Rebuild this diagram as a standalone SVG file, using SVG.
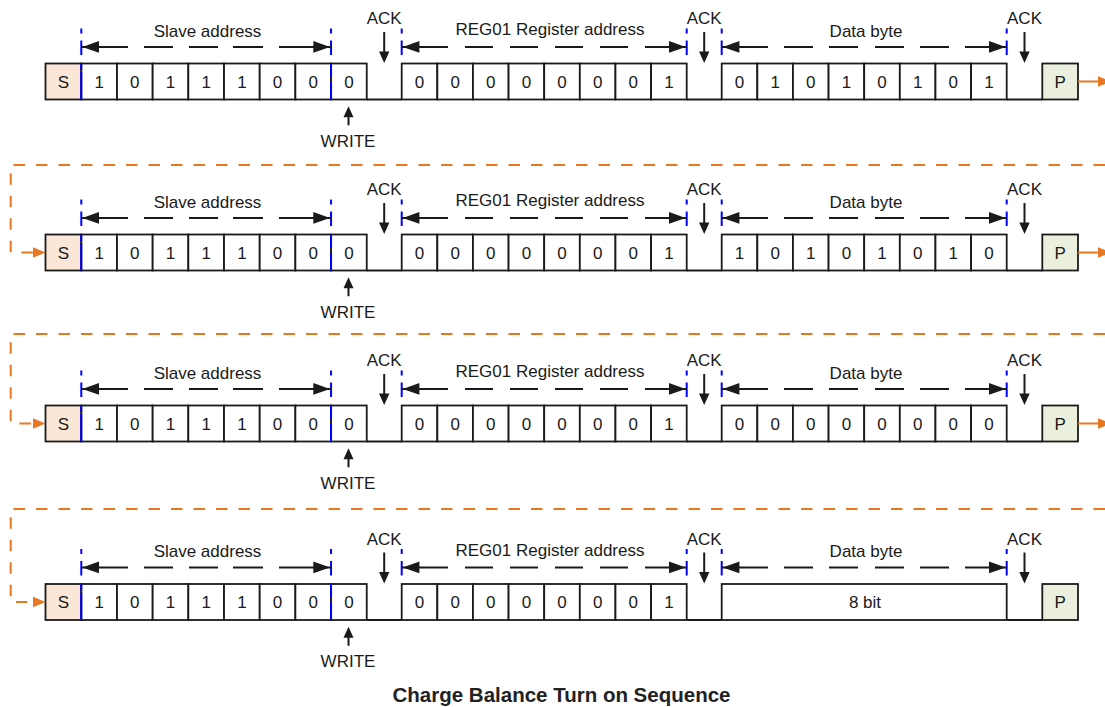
<svg xmlns="http://www.w3.org/2000/svg" width="1105" height="707" viewBox="0 0 1105 707">
<style>
.c{fill:#fff;stroke:#1a1a1a;stroke-width:1.8}
.s{fill:#fbe6d8}
.p{fill:#eaf0dd}
.ln{fill:none;stroke:#1a1a1a;stroke-width:1.8}
.t{font-family:"Liberation Sans",Arial,sans-serif;font-size:17px;fill:#1a1a1a;text-anchor:middle}
.ttl{font-family:"Liberation Sans",Arial,sans-serif;font-size:20.5px;font-weight:bold;fill:#222;text-anchor:middle}
.bl{fill:none;stroke:#0000ff;stroke-width:2}
.dim{fill:none;stroke:#1a1a1a;stroke-width:2}
.ah{fill:#1a1a1a}
.or{fill:none;stroke:#e87722;stroke-width:2;stroke-dasharray:11.5 11}
.os{fill:none;stroke:#e87722;stroke-width:2}
.oa{fill:#e87722}
</style>
<defs>
<g id="frame">
<path class="ln" d="M366.74 36H401.7M686.7 36H721.7M1006.7 36H1042.3"/>
<rect class="c s" x="45.5" y="0" width="35.8" height="36"/>
<rect class="c" x="81.3" y="0" width="35.68" height="36"/>
<rect class="c" x="116.98" y="0" width="35.68" height="36"/>
<rect class="c" x="152.66" y="0" width="35.68" height="36"/>
<rect class="c" x="188.34" y="0" width="35.68" height="36"/>
<rect class="c" x="224.02" y="0" width="35.68" height="36"/>
<rect class="c" x="259.7" y="0" width="35.68" height="36"/>
<rect class="c" x="295.38" y="0" width="35.68" height="36"/>
<rect class="c" x="331.06" y="0" width="35.68" height="36"/>
<rect class="c" x="401.7" y="0" width="35.625" height="36"/>
<rect class="c" x="437.33" y="0" width="35.625" height="36"/>
<rect class="c" x="472.95" y="0" width="35.625" height="36"/>
<rect class="c" x="508.58" y="0" width="35.625" height="36"/>
<rect class="c" x="544.2" y="0" width="35.625" height="36"/>
<rect class="c" x="579.83" y="0" width="35.625" height="36"/>
<rect class="c" x="615.45" y="0" width="35.625" height="36"/>
<rect class="c" x="651.08" y="0" width="35.625" height="36"/>
<rect class="c p" x="1042.3" y="0" width="35.7" height="36"/>
</g>
</defs>

<!-- Row 1 -->
<g id="row1" transform="translate(0,63.5)">
<use href="#frame"/>
<g id="r1-data">
<rect class="c" x="721.7" y="0" width="35.625" height="36"/>
<rect class="c" x="757.33" y="0" width="35.625" height="36"/>
<rect class="c" x="792.95" y="0" width="35.625" height="36"/>
<rect class="c" x="828.58" y="0" width="35.625" height="36"/>
<rect class="c" x="864.2" y="0" width="35.625" height="36"/>
<rect class="c" x="899.83" y="0" width="35.625" height="36"/>
<rect class="c" x="935.45" y="0" width="35.625" height="36"/>
<rect class="c" x="971.08" y="0" width="35.625" height="36"/>
</g>
<g id="r1-text">
<text class="t" x="63.4" y="24.1">S</text>
<text class="t" x="99.14" y="24.1">1</text><text class="t" x="134.82" y="24.1">0</text><text class="t" x="170.5" y="24.1">1</text><text class="t" x="206.18" y="24.1">1</text><text class="t" x="241.86" y="24.1">1</text><text class="t" x="277.54" y="24.1">0</text><text class="t" x="313.22" y="24.1">0</text><text class="t" x="348.9" y="24.1">0</text>
<text class="t" x="419.51" y="24.1">0</text><text class="t" x="455.14" y="24.1">0</text><text class="t" x="490.76" y="24.1">0</text><text class="t" x="526.39" y="24.1">0</text><text class="t" x="562.01" y="24.1">0</text><text class="t" x="597.64" y="24.1">0</text><text class="t" x="633.26" y="24.1">0</text><text class="t" x="668.89" y="24.1">1</text>
<text class="t" x="739.51" y="24.1">0</text><text class="t" x="775.14" y="24.1">1</text><text class="t" x="810.76" y="24.1">0</text><text class="t" x="846.39" y="24.1">1</text><text class="t" x="882.01" y="24.1">0</text><text class="t" x="917.64" y="24.1">1</text><text class="t" x="953.26" y="24.1">0</text><text class="t" x="988.89" y="24.1">1</text>
<text class="t" x="1060.15" y="24.1">P</text>
<text class="t" x="207.5" y="-26.6">Slave address</text>
<text class="t" x="550" y="-28.3">REG01 Register address</text>
<text class="t" x="866" y="-26.6">Data byte</text>
<text class="t" x="384.2" y="-39.3">ACK</text>
<text class="t" x="704.2" y="-39.3">ACK</text>
<text class="t" x="1024.5" y="-39.3">ACK</text>
<text class="t" x="348" y="83">WRITE</text>
</g>
<g id="r1-marks">
<path class="bl" d="M81.3 -35V-30M81.3 -23V-8.5M331.06 -35V-30M331.06 -23V-8.5M401.7 -35V-30M401.7 -23V-8.5M686.7 -35V-30M686.7 -23V-8.5M721.7 -35V-30M721.7 -23V-8.5M1006.7 -35V-30M1006.7 -23V-8.5M81.3 0V6.5M81.3 8.5V36M331.06 0V13.3M331.06 18.3V36"/>
<path class="dim" d="M81.3 -16.6H128M144 -16.6H173M189 -16.6H218M233 -16.6H263M279 -16.6H331M401.7 -16.6H448M465 -16.6H493M510 -16.6H538M555 -16.6H583M600 -16.6H628M645 -16.6H686.7M721.7 -16.6H768M784 -16.6H813M829 -16.6H858M875 -16.6H904M920 -16.6H949M965 -16.6H1006.7M384.2 -31.6V-11M704.2 -31.6V-11M1024.5 -31.6V-11M348.5 61.7V53"/>
<path class="ah" d="M82.3 -16.6L99 -22.5V-10.7ZM330 -16.6L313.3 -22.5V-10.7ZM402.7 -16.6L419.4 -22.5V-10.7ZM685.7 -16.6L669 -22.5V-10.7ZM722.7 -16.6L739.4 -22.5V-10.7ZM1005.7 -16.6L989 -22.5V-10.7ZM379 -12H389.4L384.2 -0.5ZM699 -12H709.4L704.2 -0.5ZM1019.3 -12H1029.7L1024.5 -0.5ZM343.5 53.7H353.5L348.5 42.7Z"/>
</g>
</g>

<!-- Row 2 -->
<g id="row2" transform="translate(0,234.5)">
<use href="#frame"/>
<g id="r2-data">
<rect class="c" x="721.7" y="0" width="35.625" height="36"/>
<rect class="c" x="757.33" y="0" width="35.625" height="36"/>
<rect class="c" x="792.95" y="0" width="35.625" height="36"/>
<rect class="c" x="828.58" y="0" width="35.625" height="36"/>
<rect class="c" x="864.2" y="0" width="35.625" height="36"/>
<rect class="c" x="899.83" y="0" width="35.625" height="36"/>
<rect class="c" x="935.45" y="0" width="35.625" height="36"/>
<rect class="c" x="971.08" y="0" width="35.625" height="36"/>
</g>
<g id="r2-text">
<text class="t" x="63.4" y="24.1">S</text>
<text class="t" x="99.14" y="24.1">1</text><text class="t" x="134.82" y="24.1">0</text><text class="t" x="170.5" y="24.1">1</text><text class="t" x="206.18" y="24.1">1</text><text class="t" x="241.86" y="24.1">1</text><text class="t" x="277.54" y="24.1">0</text><text class="t" x="313.22" y="24.1">0</text><text class="t" x="348.9" y="24.1">0</text>
<text class="t" x="419.51" y="24.1">0</text><text class="t" x="455.14" y="24.1">0</text><text class="t" x="490.76" y="24.1">0</text><text class="t" x="526.39" y="24.1">0</text><text class="t" x="562.01" y="24.1">0</text><text class="t" x="597.64" y="24.1">0</text><text class="t" x="633.26" y="24.1">0</text><text class="t" x="668.89" y="24.1">1</text>
<text class="t" x="739.51" y="24.1">1</text><text class="t" x="775.14" y="24.1">0</text><text class="t" x="810.76" y="24.1">1</text><text class="t" x="846.39" y="24.1">0</text><text class="t" x="882.01" y="24.1">1</text><text class="t" x="917.64" y="24.1">0</text><text class="t" x="953.26" y="24.1">1</text><text class="t" x="988.89" y="24.1">0</text>
<text class="t" x="1060.15" y="24.1">P</text>
<text class="t" x="207.5" y="-26.6">Slave address</text>
<text class="t" x="550" y="-28.3">REG01 Register address</text>
<text class="t" x="866" y="-26.6">Data byte</text>
<text class="t" x="384.2" y="-39.3">ACK</text>
<text class="t" x="704.2" y="-39.3">ACK</text>
<text class="t" x="1024.5" y="-39.3">ACK</text>
<text class="t" x="348" y="83">WRITE</text>
</g>
<g id="r2-marks">
<path class="bl" d="M81.3 -35V-30M81.3 -23V-8.5M331.06 -35V-30M331.06 -23V-8.5M401.7 -35V-30M401.7 -23V-8.5M686.7 -35V-30M686.7 -23V-8.5M721.7 -35V-30M721.7 -23V-8.5M1006.7 -35V-30M1006.7 -23V-8.5M81.3 0V6.5M81.3 8.5V36M331.06 0V13.3M331.06 18.3V36"/>
<path class="dim" d="M81.3 -16.6H128M144 -16.6H173M189 -16.6H218M233 -16.6H263M279 -16.6H331M401.7 -16.6H448M465 -16.6H493M510 -16.6H538M555 -16.6H583M600 -16.6H628M645 -16.6H686.7M721.7 -16.6H768M784 -16.6H813M829 -16.6H858M875 -16.6H904M920 -16.6H949M965 -16.6H1006.7M384.2 -31.6V-11M704.2 -31.6V-11M1024.5 -31.6V-11M348.5 61.7V53"/>
<path class="ah" d="M82.3 -16.6L99 -22.5V-10.7ZM330 -16.6L313.3 -22.5V-10.7ZM402.7 -16.6L419.4 -22.5V-10.7ZM685.7 -16.6L669 -22.5V-10.7ZM722.7 -16.6L739.4 -22.5V-10.7ZM1005.7 -16.6L989 -22.5V-10.7ZM379 -12H389.4L384.2 -0.5ZM699 -12H709.4L704.2 -0.5ZM1019.3 -12H1029.7L1024.5 -0.5ZM343.5 53.7H353.5L348.5 42.7Z"/>
</g>
</g>

<!-- Row 3 -->
<g id="row3" transform="translate(0,405.5)">
<use href="#frame"/>
<g id="r3-data">
<rect class="c" x="721.7" y="0" width="35.625" height="36"/>
<rect class="c" x="757.33" y="0" width="35.625" height="36"/>
<rect class="c" x="792.95" y="0" width="35.625" height="36"/>
<rect class="c" x="828.58" y="0" width="35.625" height="36"/>
<rect class="c" x="864.2" y="0" width="35.625" height="36"/>
<rect class="c" x="899.83" y="0" width="35.625" height="36"/>
<rect class="c" x="935.45" y="0" width="35.625" height="36"/>
<rect class="c" x="971.08" y="0" width="35.625" height="36"/>
</g>
<g id="r3-text">
<text class="t" x="63.4" y="24.1">S</text>
<text class="t" x="99.14" y="24.1">1</text><text class="t" x="134.82" y="24.1">0</text><text class="t" x="170.5" y="24.1">1</text><text class="t" x="206.18" y="24.1">1</text><text class="t" x="241.86" y="24.1">1</text><text class="t" x="277.54" y="24.1">0</text><text class="t" x="313.22" y="24.1">0</text><text class="t" x="348.9" y="24.1">0</text>
<text class="t" x="419.51" y="24.1">0</text><text class="t" x="455.14" y="24.1">0</text><text class="t" x="490.76" y="24.1">0</text><text class="t" x="526.39" y="24.1">0</text><text class="t" x="562.01" y="24.1">0</text><text class="t" x="597.64" y="24.1">0</text><text class="t" x="633.26" y="24.1">0</text><text class="t" x="668.89" y="24.1">1</text>
<text class="t" x="739.51" y="24.1">0</text><text class="t" x="775.14" y="24.1">0</text><text class="t" x="810.76" y="24.1">0</text><text class="t" x="846.39" y="24.1">0</text><text class="t" x="882.01" y="24.1">0</text><text class="t" x="917.64" y="24.1">0</text><text class="t" x="953.26" y="24.1">0</text><text class="t" x="988.89" y="24.1">0</text>
<text class="t" x="1060.15" y="24.1">P</text>
<text class="t" x="207.5" y="-26.6">Slave address</text>
<text class="t" x="550" y="-28.3">REG01 Register address</text>
<text class="t" x="866" y="-26.6">Data byte</text>
<text class="t" x="384.2" y="-39.3">ACK</text>
<text class="t" x="704.2" y="-39.3">ACK</text>
<text class="t" x="1024.5" y="-39.3">ACK</text>
<text class="t" x="348" y="83">WRITE</text>
</g>
<g id="r3-marks">
<path class="bl" d="M81.3 -35V-30M81.3 -23V-8.5M331.06 -35V-30M331.06 -23V-8.5M401.7 -35V-30M401.7 -23V-8.5M686.7 -35V-30M686.7 -23V-8.5M721.7 -35V-30M721.7 -23V-8.5M1006.7 -35V-30M1006.7 -23V-8.5M81.3 0V6.5M81.3 8.5V36M331.06 0V13.3M331.06 18.3V36"/>
<path class="dim" d="M81.3 -16.6H128M144 -16.6H173M189 -16.6H218M233 -16.6H263M279 -16.6H331M401.7 -16.6H448M465 -16.6H493M510 -16.6H538M555 -16.6H583M600 -16.6H628M645 -16.6H686.7M721.7 -16.6H768M784 -16.6H813M829 -16.6H858M875 -16.6H904M920 -16.6H949M965 -16.6H1006.7M384.2 -31.6V-11M704.2 -31.6V-11M1024.5 -31.6V-11M348.5 61.7V53"/>
<path class="ah" d="M82.3 -16.6L99 -22.5V-10.7ZM330 -16.6L313.3 -22.5V-10.7ZM402.7 -16.6L419.4 -22.5V-10.7ZM685.7 -16.6L669 -22.5V-10.7ZM722.7 -16.6L739.4 -22.5V-10.7ZM1005.7 -16.6L989 -22.5V-10.7ZM379 -12H389.4L384.2 -0.5ZM699 -12H709.4L704.2 -0.5ZM1019.3 -12H1029.7L1024.5 -0.5ZM343.5 53.7H353.5L348.5 42.7Z"/>
</g>
</g>

<!-- Row 4 -->
<g id="row4" transform="translate(0,584)">
<use href="#frame"/>
<g id="r4-data">
<rect class="c" x="721.7" y="0" width="285" height="36"/>
</g>
<g id="r4-text">
<text class="t" x="63.4" y="24.1">S</text>
<text class="t" x="99.14" y="24.1">1</text><text class="t" x="134.82" y="24.1">0</text><text class="t" x="170.5" y="24.1">1</text><text class="t" x="206.18" y="24.1">1</text><text class="t" x="241.86" y="24.1">1</text><text class="t" x="277.54" y="24.1">0</text><text class="t" x="313.22" y="24.1">0</text><text class="t" x="348.9" y="24.1">0</text>
<text class="t" x="419.51" y="24.1">0</text><text class="t" x="455.14" y="24.1">0</text><text class="t" x="490.76" y="24.1">0</text><text class="t" x="526.39" y="24.1">0</text><text class="t" x="562.01" y="24.1">0</text><text class="t" x="597.64" y="24.1">0</text><text class="t" x="633.26" y="24.1">0</text><text class="t" x="668.89" y="24.1">1</text>
<text class="t" x="865" y="24.1">8 bit</text>
<text class="t" x="1060.15" y="24.1">P</text>
<text class="t" x="207.5" y="-26.6">Slave address</text>
<text class="t" x="550" y="-28.3">REG01 Register address</text>
<text class="t" x="866" y="-26.6">Data byte</text>
<text class="t" x="384.2" y="-39.3">ACK</text>
<text class="t" x="704.2" y="-39.3">ACK</text>
<text class="t" x="1024.5" y="-39.3">ACK</text>
<text class="t" x="348" y="83">WRITE</text>
</g>
<g id="r4-marks">
<path class="bl" d="M81.3 -35V-30M81.3 -23V-8.5M331.06 -35V-30M331.06 -23V-8.5M401.7 -35V-30M401.7 -23V-8.5M686.7 -35V-30M686.7 -23V-8.5M721.7 -35V-30M721.7 -23V-8.5M1006.7 -35V-30M1006.7 -23V-8.5M81.3 0V6.5M81.3 8.5V36M331.06 0V13.3M331.06 18.3V36"/>
<path class="dim" d="M81.3 -16.6H128M144 -16.6H173M189 -16.6H218M233 -16.6H263M279 -16.6H331M401.7 -16.6H448M465 -16.6H493M510 -16.6H538M555 -16.6H583M600 -16.6H628M645 -16.6H686.7M721.7 -16.6H768M784 -16.6H813M829 -16.6H858M875 -16.6H904M920 -16.6H949M965 -16.6H1006.7M384.2 -31.6V-11M704.2 -31.6V-11M1024.5 -31.6V-11M348.5 61.7V53"/>
<path class="ah" d="M82.3 -16.6L99 -22.5V-10.7ZM330 -16.6L313.3 -22.5V-10.7ZM402.7 -16.6L419.4 -22.5V-10.7ZM685.7 -16.6L669 -22.5V-10.7ZM722.7 -16.6L739.4 -22.5V-10.7ZM1005.7 -16.6L989 -22.5V-10.7ZM379 -12H389.4L384.2 -0.5ZM699 -12H709.4L704.2 -0.5ZM1019.3 -12H1029.7L1024.5 -0.5ZM343.5 53.7H353.5L348.5 42.7Z"/>
</g>
</g>

<!-- Orange continuation connectors -->
<g id="connectors">
<path class="os" d="M1078 81.5H1099M1078 252.5H1099M1078 423.5H1099"/>
<path class="oa" d="M1098 76.2L1111 81.5L1098 86.8ZM1098 247.2L1111 252.5L1098 257.8ZM1098 418.2L1111 423.5L1098 428.8Z"/>
<path class="or" d="M1105 165H10.7V252.5H34"/>
<path class="or" d="M1105 334H10.7V423.5H34"/>
<path class="or" d="M1105 509H10.7V602H34"/>
<path class="oa" d="M45.5 252.5L33 247.2V257.8ZM45.5 423.5L33 418.2V428.8ZM45.5 602L33 596.7V607.3Z"/>
</g>

<text class="ttl" x="561.5" y="702">Charge Balance Turn on Sequence</text>
</svg>
